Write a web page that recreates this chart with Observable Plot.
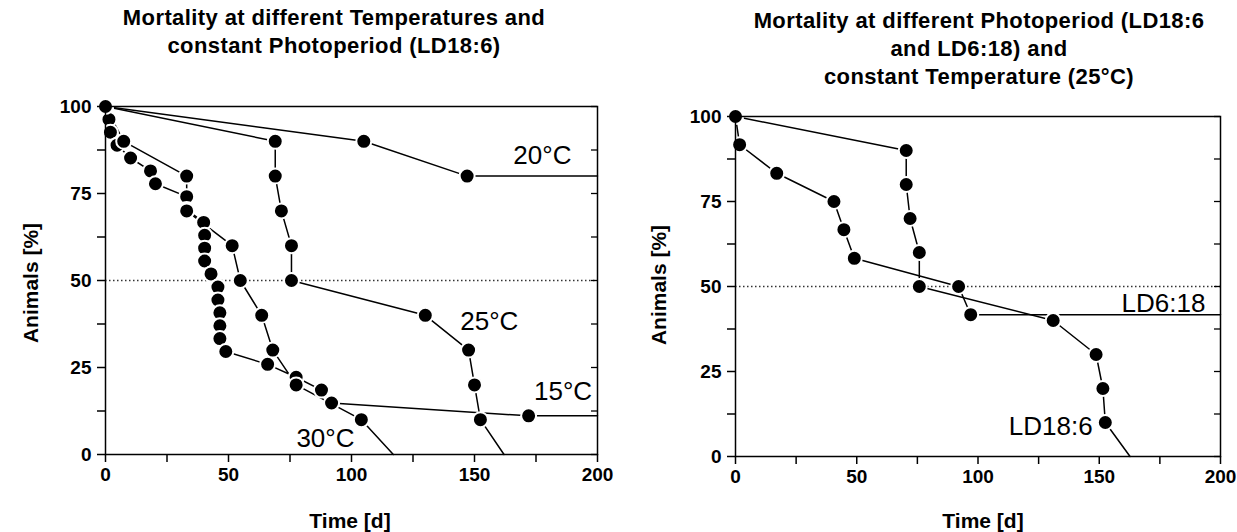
<!DOCTYPE html>
<html><head><meta charset="utf-8">
<script src="https://cdn.jsdelivr.net/npm/d3@7"></script>
<script src="https://cdn.jsdelivr.net/npm/@observablehq/plot@0.6"></script>
<style>
body{margin:0;background:#fff;}
#wrap{position:relative;width:1237px;height:532px;overflow:hidden;font-family:"Liberation Sans",Arial,sans-serif;color:#000;background:#fff;}
.title{position:absolute;text-align:center;font-weight:bold;font-size:22px;line-height:28px;letter-spacing:0.4px;white-space:nowrap;}
.xl{position:absolute;font-weight:bold;font-size:21px;white-space:nowrap;transform:translate(-50%,-50%);}
.yl{position:absolute;font-weight:bold;font-size:21px;white-space:nowrap;transform:translate(-50%,-50%) rotate(-90deg);}
.panel{position:absolute;top:0;}
</style></head><body><div id="wrap"></div>
<script>
// ---- Left panel: temperatures, LD18:6 ----
const days20 = [0, 105, 147];
const pct20  = [100, 90, 80];
const tail20 = [200, 80];

const days25 = [0, 69, 69, 71.5, 75.6, 75.6, 130, 147.6, 150, 152.4];
const pct25  = [100, 90, 80, 70, 60, 50, 40, 30, 20, 10];
const tail25 = [162, 0];

const days15 = [0, 1.4, 2, 4.7, 10.2, 18.3, 20.3, 33, 33, 39.9, 40.3, 40.3, 40.3, 42.9, 45.7, 45.7, 46.5, 46.5, 46.5, 48.9, 65.9, 77.5, 87.8, 91.9, 172];
const pct15  = [100, 96.3, 92.6, 88.9, 85.2, 81.5, 77.8, 74.1, 70.4, 66.7, 63.0, 59.3, 55.6, 51.9, 48.1, 44.4, 40.7, 37.0, 33.3, 29.6, 25.9, 22.2, 18.5, 14.8, 11.1];
const tail15 = [200, 11.1];

const days30 = [0, 7.4, 33, 33, 51.5, 54.8, 63.5, 68, 77.5, 104];
const pct30  = [100, 90, 80, 70, 60, 50, 40, 30, 20, 10];
const tail30 = [117, 0];

// ---- Right panel: photoperiods, 25°C ----
const days186 = [0, 70.4, 70.4, 72, 75.8, 75.8, 131, 148.7, 151.5, 152.5];
const pct186  = [100, 90, 80, 70, 60, 50, 40, 30, 20, 10];
const tail186 = [162.7, 0];

const days618 = [0, 1.7, 17, 40.6, 44.7, 49, 92, 97];
const pct618  = [100, 91.7, 83.3, 75, 66.7, 58.3, 50, 41.7];
const tail618 = [200, 41.7];

// tick values
const xTicks = [0, 25, 50, 75, 100, 125, 150, 175, 200];
const yTicks = [0, 12.5, 25, 37.5, 50, 62.5, 75, 87.5, 100];
const refLine = [50];

// series labels
const labelsLeft = [
  {text: "20°C", x: 177.6, y: 86},
  {text: "25°C", x: 156, y: 38.2},
  {text: "15°C", x: 186, y: 18.1},
  {text: "30°C", x: 89.4, y: 4.6}
];
const labelsRight = [
  {text: "LD6:18", x: 176.5, y: 45},
  {text: "LD18:6", x: 130, y: 8.8}
];

function mk(name, days, pct, tail) { return {name, days, pct, tail}; }

function panel({series, labels, width, ml, mr, mt, mb}) {
  const lines = series.flatMap(s => {
    const pts = s.days.map((d, i) => ({t: d, p: s.pct[i], k: s.name}));
    pts.push({t: s.tail[0], p: s.tail[1], k: s.name});
    return pts;
  });
  const dots = series.flatMap(s => s.days.map((d, i) => ({t: d, p: s.pct[i]})));
  const plotW = width - ml - mr;
  return Plot.plot({
    width, height: 532,
    marginLeft: ml, marginRight: mr, marginTop: mt, marginBottom: mb,
    x: {domain: [0, 200]},
    y: {domain: [0, 100]},
    style: {fontFamily: "'Liberation Sans', Arial, sans-serif", background: "transparent", color: "black", overflow: "visible"},
    marks: [
      Plot.ruleY(refLine, {stroke: "#333", strokeDasharray: "1.5,2.5", strokeWidth: 1.3}),
      Plot.line(lines, {x: "t", y: "p", z: "k", stroke: "black", strokeWidth: 1.5}),
      Plot.dot(dots, {x: "t", y: "p", r: 7.5, fill: "black", stroke: "white", strokeWidth: 2}),
      Plot.frame({stroke: "black", strokeWidth: 1.5}),
      Plot.axisX({ticks: xTicks, tickSize: 8, tickPadding: 5, tickFormat: d => d % 50 === 0 ? String(d) : "",
        fontSize: 19, fontWeight: "bold", label: null, strokeWidth: 1.5}),
      Plot.axisY({ticks: yTicks, tickSize: 8, tickPadding: 6, tickFormat: d => d % 25 === 0 ? String(d) : "",
        fontSize: 19, fontWeight: "bold", label: null, strokeWidth: 1.5}),
      // inward ticks along the right border
      Plot.axisY({anchor: "left", ticks: yTicks, tickSize: 6, dx: plotW, tickFormat: () => "", label: null, strokeWidth: 1.3}),
      Plot.text(labels, {x: "x", y: "y", text: "text", fontSize: 26, textAnchor: "middle", lineAnchor: "middle"})
    ]
  });
}

const wrap = document.getElementById("wrap");

const left = panel({
  series: [mk("20", days20, pct20, tail20), mk("25", days25, pct25, tail25), mk("15", days15, pct15, tail15), mk("30", days30, pct30, tail30)],
  labels: labelsLeft, width: 620, ml: 105, mr: 23, mt: 106, mb: 78
});
left.classList.add("panel"); left.style.left = "0px";
wrap.appendChild(left);

const right = panel({
  series: [mk("186", days186, pct186, tail186), mk("618", days618, pct618, tail618)],
  labels: labelsRight, width: 617, ml: 115, mr: 17, mt: 116, mb: 76
});
right.classList.add("panel"); right.style.left = "620px";
wrap.appendChild(right);

function addDiv(cls, html, css) {
  const d = document.createElement("div");
  d.className = cls; d.innerHTML = html;
  Object.assign(d.style, css);
  wrap.appendChild(d);
}
addDiv("title", "Mortality at different Temperatures and<br>constant Photoperiod (LD18:6)", {left: "34px", width: "600px", top: "4px"});
addDiv("title", "Mortality at different Photoperiod (LD18:6<br>and LD6:18) and<br>constant Temperature (25°C)", {left: "679px", width: "600px", top: "7px"});
addDiv("xl", "Time [d]", {left: "350px", top: "521px"});
addDiv("xl", "Time [d]", {left: "983px", top: "521px"});
addDiv("yl", "Animals [%]", {left: "31px", top: "283px"});
addDiv("yl", "Animals [%]", {left: "659px", top: "285px"});
</script></body></html>
